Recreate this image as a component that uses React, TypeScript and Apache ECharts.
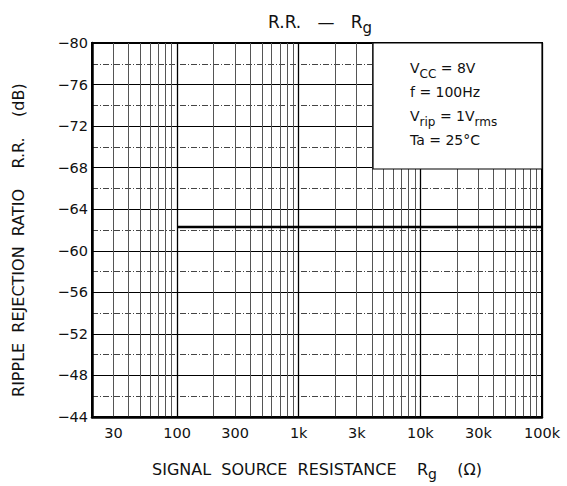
import React, { useEffect, useRef } from "react";
import * as echarts from "echarts";

const xMin = 20;
const xMax = 100000;
const yMin = -80;
const yMax = -44;
const yStep = 4;

// measured curve: flat ripple rejection from 100 ohm to 100 kohm
const rgValues = [100, 100000];
const rrValues = [-62.3, -62.3];

// x tick labels
const xLabelValues = [30, 100, 300, 1000, 3000, 10000, 30000, 100000];
const xLabelTexts = ["30", "100", "300", "1k", "3k", "10k", "30k", "100k"];

// log-paper grid lines
const xMinorGrid = [
  20, 30, 40, 50, 60, 70, 80, 90,
  200, 300, 400, 500, 600, 700, 800, 900,
  2000, 3000, 4000, 5000, 6000, 7000, 8000, 9000,
  20000, 30000, 40000, 50000, 60000, 70000, 80000, 90000,
];
const xDecadeGrid = [100, 1000, 10000, 100000];

const conditionLines = ["V{s|CC} = 8V", "f = 100Hz", "V{s|rip} = 1V{s|rms}", "Ta = 25°C"];

const FONT = "DejaVu Sans";

export default function App() {
  const ref = useRef<HTMLDivElement>(null);
  useEffect(() => {
    document.body.style.margin = "0";
    if (!ref.current) return;
    const chart = echarts.init(ref.current, null, { renderer: "svg" });
    const gridLeft = 92, gridTop = 43, gridRight = 25, gridBottom = 66;
    const plotRight = 567 - gridRight;
    const sub = { fontFamily: FONT, color: "#111", verticalAlign: "bottom" };
    chart.setOption({
      animation: false,
      backgroundColor: "#fff",
      title: {
        text: "R.R.   —   R{s|g}",
        left: (gridLeft + plotRight) / 2 - 2,
        top: 4,
        textAlign: "center",
        textStyle: {
          fontFamily: FONT, fontSize: 17, fontWeight: "normal", color: "#111", lineHeight: 26,
          rich: { s: { ...sub, fontSize: 15, lineHeight: 26 } },
        },
      },
      grid: {
        left: gridLeft, top: gridTop, right: gridRight, bottom: gridBottom,
        show: true, borderColor: "#000", borderWidth: 2, backgroundColor: "transparent",
      },
      xAxis: [
        {
          type: "log", logBase: 10, min: xMin, max: xMax, position: "bottom",
          axisLine: { show: true, lineStyle: { color: "#000", width: 2.5 } },
          axisTick: { show: false, customValues: xMinorGrid },
          axisLabel: {
            customValues: xLabelValues,
            formatter: (v: number) => {
              const i = xLabelValues.findIndex((x) => Math.abs(x - v) / x < 1e-6);
              return i >= 0 ? xLabelTexts[i] : "";
            },
            fontFamily: FONT, fontSize: 14.5, color: "#111", margin: 8,
          },
          splitLine: { show: true, lineStyle: { color: "#555", width: 1 } },
          name: "SIGNAL  SOURCE  RESISTANCE    R{s|g}    (Ω)",
          nameLocation: "middle",
          nameGap: 40,
          nameTextStyle: {
            fontFamily: FONT, fontSize: 16, color: "#111", lineHeight: 24,
            rich: { s: { ...sub, fontSize: 14, lineHeight: 24 } },
          },
        },
        {
          type: "log", logBase: 10, min: xMin, max: xMax, position: "bottom",
          axisLine: { show: false },
          axisTick: { show: false, customValues: xDecadeGrid },
          axisLabel: { show: false },
          splitLine: { show: true, lineStyle: { color: "#000", width: 1.3 } },
        },
      ],
      yAxis: {
        type: "value", inverse: true, min: yMin, max: yMax, interval: yStep,
        axisLine: { show: true, lineStyle: { color: "#000", width: 2.5 } },
        axisTick: { show: false },
        minorTick: { show: false, splitNumber: 2 },
        minorSplitLine: { show: true, lineStyle: { color: "#444", width: 1, type: [6, 2, 1, 2] } },
        splitLine: { show: true, lineStyle: { color: "#000", width: 1.2 } },
        axisLabel: {
          formatter: (v: number) => (v < 0 ? "\u2212" + Math.abs(v) : String(v)),
          fontFamily: FONT, fontSize: 14.5, color: "#111", margin: 4,
        },
        name: "RIPPLE  REJECTION  RATIO    R.R.    (dB)    ",
        nameLocation: "middle",
        nameRotate: 90,
        nameGap: 66,
        nameTextStyle: { fontFamily: FONT, fontSize: 16, color: "#111" },
      },
      series: [
        {
          type: "line",
          xAxisIndex: 0,
          data: rgValues.map((x, i) => [x, rrValues[i]]),
          symbol: "none",
          lineStyle: { color: "#000", width: 2.5 },
          z: 5,
        },
      ],
      graphic: [
        {
          type: "rect",
          z: 100,
          shape: { x: 373, y: gridTop, width: plotRight - 373, height: 169 - gridTop },
          style: { fill: "#fff", stroke: "#000", lineWidth: 1.2 },
        },
        {
          type: "text",
          z: 101,
          x: 410,
          y: 56,
          style: {
            text: conditionLines.join("\n"),
            fontFamily: FONT,
            fontSize: 14,
            fill: "#111",
            lineHeight: 24,
            rich: { s: { fontSize: 12, fontFamily: FONT, fill: "#111", verticalAlign: "bottom", lineHeight: 24 } },
          },
        },
      ],
    });
    return () => chart.dispose();
  }, []);
  return <div ref={ref} style={{ width: 567, height: 486 }} />;
}
